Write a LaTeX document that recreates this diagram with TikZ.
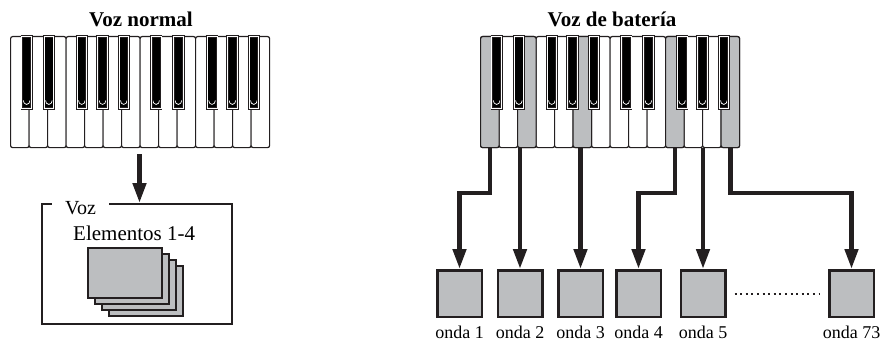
\documentclass[tikz,border=0pt]{standalone}
\usepackage{fontspec}
\setmainfont{Liberation Serif}
\usetikzlibrary{arrows.meta,calc,positioning}

\definecolor{keygray}{RGB}{188,190,192}
\definecolor{inkdark}{RGB}{35,31,32}

\tikzset{
  whitekey/.style={draw=inkdark, line width=1.2pt, fill=white, minimum width=18.5pt,
    minimum height=111pt, inner sep=0pt, rounded corners=2pt, anchor=north west},
  blackkey/.style={draw=inkdark, fill=black, line width=0.9pt, double=white, double distance=0.7pt,
    minimum width=9.8pt, minimum height=72pt, inner sep=0pt, anchor=north,
    path picture={\draw[white, line width=0.7pt]
      ([xshift=1.6pt,yshift=8pt]path picture bounding box.south west) to[out=-90,in=180]
      ([yshift=4pt]path picture bounding box.south) to[out=0,in=-90]
      ([xshift=-1.6pt,yshift=8pt]path picture bounding box.south east);}},
  feed/.style={draw=inkdark, line width=4.5pt, -{Triangle[length=20pt,width=13pt]}},
  wavebox/.style={draw=inkdark, fill=keygray, line width=2.5pt, minimum width=44.5pt,
    minimum height=46.5pt, inner sep=0pt},
  card/.style={draw=inkdark, fill=keygray, line width=2pt, minimum width=74pt,
    minimum height=50pt, inner sep=0pt, anchor=north west},
  wavelabel/.style={font=\fontsize{18}{18}\selectfont, inner sep=0pt, anchor=base},
  title/.style={font=\fontsize{21}{21}\selectfont\bfseries, inner sep=0pt, anchor=base}
}

\begin{document}
\begin{tikzpicture}[x=1pt, y=-1pt]
\useasboundingbox (0,0) rectangle (880,342);

% keyboards
\foreach \side/\xo in {L/10,R/480}
  \foreach \i in {1,...,14}
    \node[whitekey] (\side w\i) at ({\xo+(\i-1)*18.5},36) {};
\foreach \k in {1,3,6,11,14}
  \node[whitekey, fill=keygray] (Rw\k) at ({480+(\k-1)*18.5},36) {};
\foreach \side/\xo in {L/10,R/480}
  \foreach \c [count=\j] in {0.9,2.1,3.88,5.0,6.15,7.9,9.1,10.92,12.02,13.18}
    \node[blackkey] (\side b\j) at ({\xo+\c*18.5},36) {};

\node[title] (normtitle) at (141,27) {Voz normal};
\node[title] (drumtitle) at (612,27) {Voz de batería};

% normal voice
\node[draw=inkdark, line width=2pt, minimum width=190pt, minimum height=120pt] (vozbox) at (137,264) {};
\node[fill=white, inner xsep=13pt, inner ysep=1pt, anchor=base west,
  font=\fontsize{20}{20}\selectfont] (vozlabel) at (52,214) {Voz};
\node[anchor=base west, inner sep=0pt, font=\fontsize{21}{21}\selectfont] (elemlabel) at (73,240) {Elementos 1-4};
\foreach \k in {3,2,1,0}
  \node[card] (card\k) at ({87+7*\k},{247+6*\k}) {};
\draw[feed] ($(Lw8.south west)+(0,6)$) -- (Lw8.south west |- vozbox.north);

% drum voice
\node[wavebox] (wave1) at (459.5,293.5) {};
\node[wavebox] (wave2) at (520,293.5) {};
\node[wavebox] (wave3) at (580.5,293.5) {};
\node[wavebox] (wave4) at (638.5,293.5) {};
\node[wavebox] (wave5) at (703,293.5) {};
\node[wavebox] (wave6) at (851.5,293.5) {};
\foreach \n/\t in {1/1,2/2,3/3,4/4,5/5,6/73}
  \node[wavelabel] (wavelabel\n) at ($(wave\n.south)+(0,20)$) {onda \t};

\draw[feed] (Rw1.south) -- ++(0,45) -| (wave1.north);
\draw[feed] (wave2 |- Rw3.south) -- (wave2.north);
\draw[feed] (wave3 |- Rw6.south) -- (wave3.north);
\draw[feed] (Rw11.south) -- ++(0,45) -| (wave4.north);
\draw[feed] (wave5 |- Rw12.south) -- (wave5.north);
\draw[feed] (Rw14.south) -- ++(0,45) -| (wave6.north);
\draw[inkdark, line width=2pt, dash pattern=on 2pt off 3.6pt, shorten <=8pt, shorten >=9pt] (wave5.east) -- (wave6.west);
\end{tikzpicture}
\end{document}
